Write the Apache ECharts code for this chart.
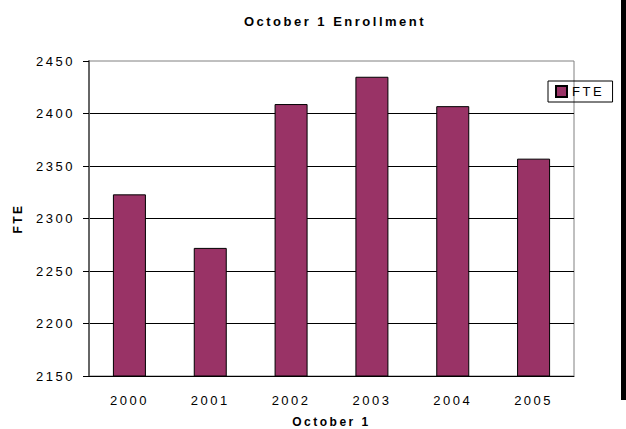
<!DOCTYPE html>
<html>
<head>
<meta charset="utf-8">
<script src="https://cdn.jsdelivr.net/npm/echarts@6/dist/echarts.min.js"></script>
<style>
  html, body { margin: 0; padding: 0; background: #fff; }
  #chart { width: 626px; height: 429px; }
  /* the exported chart has wide tracking on all of its labels */
  #chart text { letter-spacing: 2.5px; }
</style>
</head>
<body>
<div id="chart"></div>
<script>
const years = ['2000', '2001', '2002', '2003', '2004', '2005'];
const fte   = [2323, 2272, 2409, 2435, 2407, 2357];
const yMin  = 2150;
const yMax  = 2450;
const yStep = 50;

const COLORS = { bar: '#993366', frame: '#808080', axis: '#666666', text: '#000000' };
const FONT = '"Liberation Sans", Arial, sans-serif';

function buildOption() {
  return {
    backgroundColor: '#fff',
    animation: false,
    textStyle: { fontFamily: FONT },
    title: {
      text: 'October 1 Enrollment',
      left: 330, top: 10, textAlign: 'center',
      textStyle: { fontSize: 13, fontWeight: 'bold', color: COLORS.text, fontFamily: FONT },
    },
    legend: {
      left: 548, top: 81,
      padding: [4, 16, 4, 7],
      borderColor: '#000', borderWidth: 1,
      itemWidth: 11, itemHeight: 11, itemGap: 0,
      icon: 'rect',
      textStyle: { fontSize: 13, color: COLORS.text, fontFamily: FONT },
      data: ['FTE'],
    },
    grid: {
      left: 89, right: 52, top: 61, bottom: 53,
      outerBoundsMode: 'none',
      show: true, borderColor: COLORS.frame, borderWidth: 1,
    },
    xAxis: {
      type: 'category', data: years,
      axisLine: { lineStyle: { color: '#000', width: 1 } },
      axisTick: { length: 5, lineStyle: { color: COLORS.frame } },
      axisLabel: { color: COLORS.text, fontSize: 13, margin: 18 },
      name: 'October 1', nameLocation: 'middle', nameGap: 40,
      nameTextStyle: { color: COLORS.text, fontSize: 12, fontWeight: 'bold' },
    },
    yAxis: {
      type: 'value', min: yMin, max: yMax, interval: yStep,
      axisLine: { show: true, lineStyle: { color: COLORS.axis, width: 2 } },
      axisTick: { show: true, length: 6, lineStyle: { color: '#000' } },
      axisLabel: { color: COLORS.text, fontSize: 13, margin: 14, formatter: (v) => String(v) },
      splitLine: { show: true, showMinLine: false, showMaxLine: false, lineStyle: { color: '#000', width: 1 } },
      name: 'FTE', nameLocation: 'middle', nameGap: 65, nameRotate: 90,
      nameTextStyle: { color: COLORS.text, fontSize: 12, fontWeight: 'bold' },
    },
    series: [{
      name: 'FTE', type: 'bar', data: fte,
      barWidth: 33,
      itemStyle: { color: COLORS.bar, borderColor: '#000', borderWidth: 1 },
    }],
    graphic: [{
      type: 'rect', left: 621, top: 0,
      shape: { width: 5, height: 400 },
      style: { fill: '#000' },
    }],
  };
}

const chart = echarts.init(document.getElementById('chart'), null, { renderer: 'svg' });
chart.setOption(buildOption());
</script>
</body>
</html>
